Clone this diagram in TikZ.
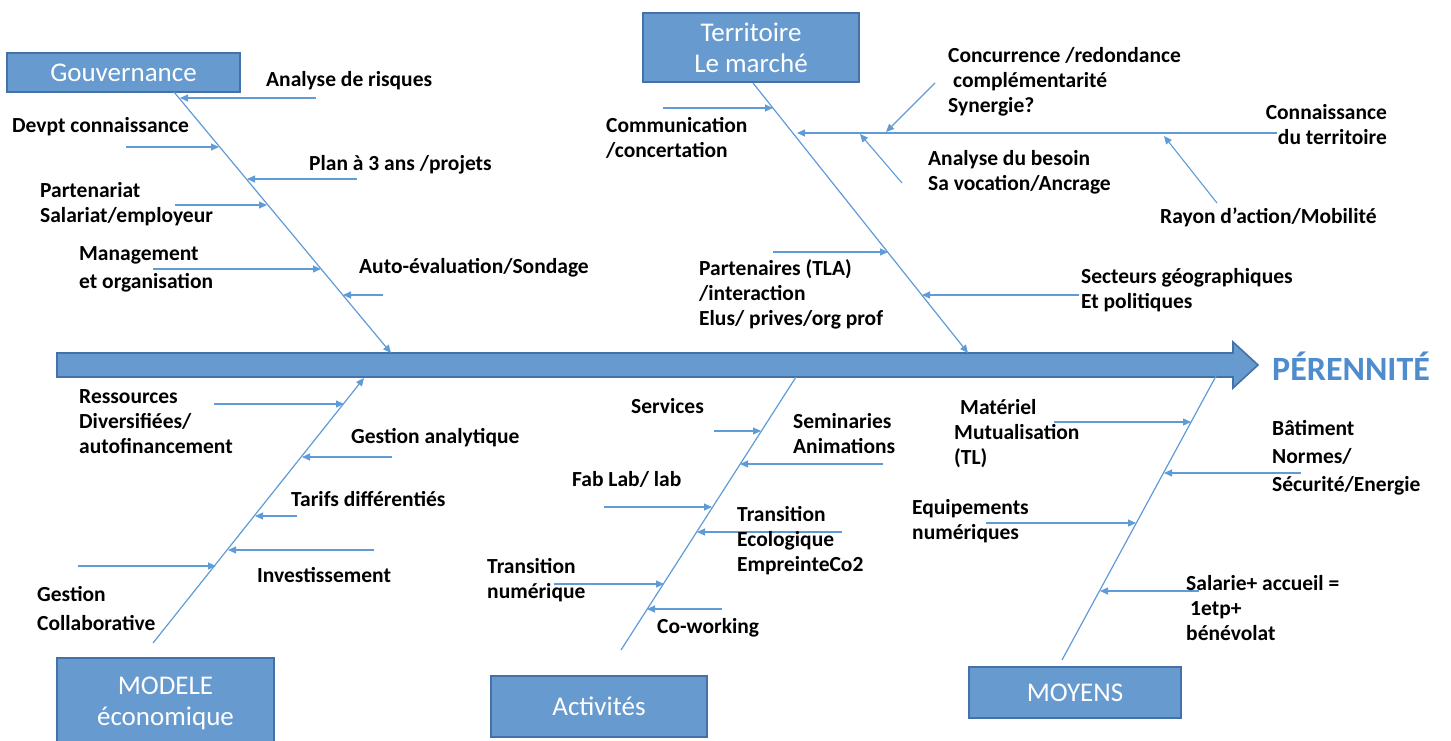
\documentclass[tikz,border=0pt]{standalone}
\usepackage{fontspec}
\setmainfont{Carlito}
\usetikzlibrary{arrows.meta}
\definecolor{boxfill}{RGB}{103,154,206}
\definecolor{boxline}{RGB}{68,114,168}
\definecolor{bonecol}{RGB}{95,155,215}
\definecolor{titleblue}{RGB}{79,140,206}
\begin{document}
\begin{tikzpicture}[x=1pt,y=-1pt,
  catbox/.style={draw=boxline, line width=2.2pt, fill=boxfill, text=white, inner sep=0pt, align=center, font=\fontsize{27}{31}\selectfont},
  lbl/.style={anchor=west, inner sep=0pt, align=left, font=\bfseries\fontsize{21.5}{25}\selectfont},
  bonel/.style={draw=bonecol, line width=1.2pt},
  bonea/.style={draw=bonecol, line width=1.2pt, -{Triangle[length=8pt,width=7pt]}},
  rib/.style={draw=bonecol, line width=1.1pt, -{Triangle[length=8pt,width=7pt]}},
]
\useasboundingbox (0,0) rectangle (1451,740);

% spine
\filldraw[fill=boxfill, draw=boxline, line width=1.6pt]
  (57,353) -- (1233,353) -- (1233,342) -- (1258,365) -- (1233,388) -- (1233,377) -- (57,377) -- cycle;
\node[anchor=west, inner sep=0pt, text=titleblue, font=\bfseries\fontsize{34}{38}\selectfont] (goal) at (1272,366) {PÉRENNITÉ};

% category boxes
\node[catbox, minimum width=233pt, minimum height=39pt] (gouv) at (123.5,72.5) {Gouvernance};
\node[catbox, minimum width=216pt, minimum height=69pt] (terr) at (751,47.5) {Territoire\\Le marché};
\node[catbox, minimum width=217pt, minimum height=90pt] (mod) at (165.5,703) {MODELE\\économique};
\node[catbox, minimum width=216pt, minimum height=61pt] (act) at (599,706.5) {Activités};
\node[catbox, minimum width=212pt, minimum height=51pt] (moy) at (1075,692.5) {MOYENS};

% bone end points
\coordinate (g0) at (174,92);   \coordinate (g1) at (391,353);
\coordinate (t0) at (753,83);   \coordinate (t1) at (968,353);
\coordinate (m0) at (153,643);  \coordinate (m1) at (364,378);
\coordinate (a0) at (621,650);  \coordinate (a1) at (796,377);
\coordinate (y0) at (1062,660); \coordinate (y1) at (1222,365);

\draw[bonea] (g0) -- (g1);
\draw[bonea] (t0) -- (t1);
\draw[bonea] (m0) -- (m1);
\draw[bonel] (a0) -- (a1);
\draw[bonel] (y0) -- (y1);

% ---- Gouvernance ribs
\coordinate (g1s) at (316,98);  \coordinate (g1e) at (180,98);
\coordinate (g2s) at (126,147); \coordinate (g2e) at (219,147);
\coordinate (g3s) at (357,179); \coordinate (g3e) at (247,179);
\coordinate (g4s) at (175,205); \coordinate (g4e) at (267,205);
\coordinate (g5s) at (153,269); \coordinate (g5e) at (321,269);
\coordinate (g6s) at (383,295); \coordinate (g6e) at (343,295);
\foreach \i in {1,...,6} {\draw[rib] (g\i s) -- (g\i e);}
\node[lbl] (lg1) at (266,81) {Analyse de risques};
\node[lbl] (lg2) at (12,127) {Devpt connaissance};
\node[lbl] (lg3) at (309,165) {Plan à 3 ans /projets};
\node[lbl] (lg4) at (40,204.5) {Partenariat\\Salariat/employeur};
\node[lbl] (lg5) at (79,269) {Management\\[3pt]et organisation};
\node[lbl] (lg6) at (359,268) {Auto-évaluation/Sondage};

% ---- Territoire ribs
\coordinate (t1s) at (663,108);  \coordinate (t1e) at (773,108);
\coordinate (t2s) at (1277,133); \coordinate (t2e) at (797,133);
\coordinate (t3s) at (935,83);   \coordinate (t3e) at (886,132);
\coordinate (t4s) at (902,183);  \coordinate (t4e) at (860,134);
\coordinate (t5s) at (1217,203); \coordinate (t5e) at (1164,136);
\coordinate (t6s) at (773,252);  \coordinate (t6e) at (888,252);
\coordinate (t7s) at (1079,295); \coordinate (t7e) at (922,295);
\foreach \i in {1,...,7} {\draw[rib] (t\i s) -- (t\i e);}
\node[lbl] (lt1) at (606,138) {Communication\\/concertation};
\node[lbl] (lt2) at (948,82) {Concurrence /redondance\\\hspace{5pt}complémentarité\\Synergie?};
\node[lbl, anchor=east, align=right] (lt3) at (1387,125) {Connaissance\\du territoire};
\node[lbl] (lt4) at (928,172.5) {Analyse du besoin\\Sa vocation/Ancrage};
\node[lbl] (lt5) at (1160,217) {Rayon d’action/Mobilité};
\node[lbl] (lt6) at (699,294) {Partenaires (TLA)\\/interaction\\Elus/ prives/org prof};
\node[lbl] (lt7) at (1081,290.5) {Secteurs géographiques\\Et politiques};

% ---- MODELE economique ribs
\coordinate (m1s) at (214,404); \coordinate (m1e) at (344,404);
\coordinate (m2s) at (392,457); \coordinate (m2e) at (302,457);
\coordinate (m3s) at (297,516); \coordinate (m3e) at (255,516);
\coordinate (m4s) at (374,550); \coordinate (m4e) at (228,550);
\coordinate (m5s) at (78,566);  \coordinate (m5e) at (216,566);
\foreach \i in {1,...,5} {\draw[rib] (m\i s) -- (m\i e);}
\node[lbl] (lm1) at (79,422) {Ressources\\Diversifiées/\\autofinancement};
\node[lbl] (lm2) at (351,438) {Gestion analytique};
\node[lbl] (lm3) at (291,499) {Tarifs différentiés};
\node[lbl] (lm4) at (257,575) {Investissement};
\node[lbl] (lm5) at (37,608.5) {Gestion\\[4pt]Collaborative};

% ---- Activites ribs
\coordinate (a1s) at (714,431); \coordinate (a1e) at (761,431);
\coordinate (a2s) at (883,464); \coordinate (a2e) at (740,464);
\coordinate (a3s) at (604,507); \coordinate (a3e) at (712,507);
\coordinate (a4s) at (842,532); \coordinate (a4e) at (697,532);
\coordinate (a5s) at (554,584); \coordinate (a5e) at (664,584);
\coordinate (a6s) at (722,609); \coordinate (a6e) at (647,609);
\foreach \i in {1,...,6} {\draw[rib] (a\i s) -- (a\i e);}
\node[lbl] (la1) at (631,406) {Services};
\node[lbl] (la2) at (793,433.5) {Seminaries\\Animations};
\node[lbl] (la3) at (572,479) {Fab Lab/ lab};
\node[lbl] (la4) at (737,541) {Transition\\Ecologique\\EmpreinteCo2};
\node[lbl] (la5) at (487,580.5) {Transition\\numérique};
\node[lbl] (la6) at (657,628) {Co-working};

% ---- Moyens ribs
\coordinate (y1s) at (1054,422); \coordinate (y1e) at (1191,422);
\coordinate (y2s) at (1301,473); \coordinate (y2e) at (1164,473);
\coordinate (y3s) at (986,523);  \coordinate (y3e) at (1136,523);
\coordinate (y4s) at (1199,591); \coordinate (y4e) at (1100,591);
\foreach \i in {1,...,4} {\draw[rib] (y\i s) -- (y\i e);}
\node[lbl] (ly1) at (954,434) {\hspace{6pt}Matériel\\Mutualisation\\(TL)};
\node[lbl] (ly2) at (1272,458) {Bâtiment\\[3pt]Normes/\\[3pt]Sécurité/Energie};
\node[lbl] (ly3) at (912,521) {Equipements\\numériques};
\node[lbl] (ly4) at (1186,608) {Salarie+ accueil =\\\hspace{4pt}1etp+\\bénévolat};
\end{tikzpicture}
\end{document}
